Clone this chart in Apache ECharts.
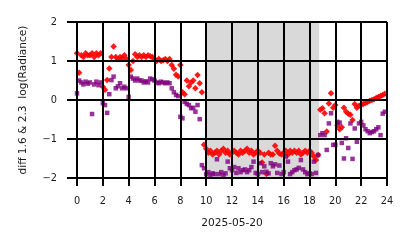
<!DOCTYPE html>
<html>
<head>
<meta charset="utf-8">
<script src="https://cdn.jsdelivr.net/npm/echarts@6/dist/echarts.min.js"></script>
<style>html,body{margin:0;padding:0;background:#fff;}#c{width:414px;height:248px;}</style>
</head>
<body>
<div id="c"></div>
<script>
// sample time step (hours) — 10-minute cadence
const stepHours = 1 / 6;
const xTicks = [0, 2, 4, 6, 8, 10, 12, 14, 16, 18, 20, 22, 24];
const yTicks = [-2, -1, 0, 1, 2];
const xTitle = '2025-05-20';
const yTitle = 'diff 1.6 & 2.3  log(Radiance)';
const nightSpan = [10, 18.75];

// red series (diamonds), one row per hour
const redValues = [
  1.2, 0.7, 1.15, 1.1, 1.2, 1.15,
  1.15, 1.2, 1.1, 1.2, 1.15, 1.2,
  0.34, 0.26, 0.51, 0.81, 1.1, 1.37,
  1.1, 1.05, 1.1, 1.07, 1.15, 1.05,
  0.9, 0.77, 1.0, 1.17, 1.1, 1.15,
  1.1, 1.15, 1.1, 1.15, 1.12, 1.1,
  1.05, 1.0, 1.05, 1.0, 1.02, 1.05,
  1.0, 1.05, 0.9, 0.8, 0.65, 0.6,
  0.9, 0.2, 0.15, 0.5, 0.35, 0.45,
  0.5, 0.3, 0.64, 0.43, 0.2, -1.15,
  -1.25, -1.35, -1.3, -1.4, -1.35, -1.3,
  -1.4, -1.3, -1.25, -1.35, -1.3, -1.4,
  -1.35, -1.3, -1.35, -1.4, -1.3, -1.35,
  -1.3, -1.25, -1.35, -1.3, -1.4, -1.35,
  -1.3, -1.35, -1.6, -1.4, -1.9, -1.35,
  -1.4, -1.4, -1.17, -1.3, -1.37, -1.4,
  -1.35, -1.3, -1.4, -1.3, -1.35, -1.3,
  -1.35, -1.3, -1.4, -1.35, -1.3, -1.35,
  -1.3, -1.35, -1.45, -1.54, -1.41, -0.25,
  -0.21, -0.34, -0.81, -0.09, 0.17, -0.2,
  -0.13, -0.65, -0.75, -0.7, -0.2, -0.3,
  -0.35, -0.38, -0.51, -0.1, -0.2, -0.15,
  -0.12, -0.1, -0.08, -0.05, -0.02, 0.0,
  0.02, 0.05, 0.08, 0.1, 0.13, 0.16
];

// purple series (squares), one row per hour
const purpleValues = [
  0.17, 0.5, 0.45, 0.4, 0.47, 0.42,
  0.45, -0.36, 0.4, 0.47, 0.38, 0.45,
  -0.08, -0.13, -0.33, 0.15, 0.51, 0.6,
  0.3, 0.35, 0.43, 0.3, 0.34, 0.3,
  0.08, 0.6, 0.55, 0.5, 0.55, 0.5,
  0.5, 0.45, 0.48, 0.45, 0.55, 0.53,
  0.5, 0.45, 0.43, 0.47, 0.45, 0.43,
  0.45, 0.43, 0.3, 0.2, 0.13, 0.1,
  -0.43, -0.47, -0.05, -0.1, -0.13, -0.21,
  -0.2, -0.3, -0.13, -0.49, -1.67, -1.75,
  -1.9, -1.85, -1.92, -1.88, -1.9, -1.52,
  -1.9, -1.85, -1.92, -1.88, -1.58, -1.75,
  -1.8, -1.72, -1.87, -1.75, -1.85, -1.8,
  -1.78, -1.85, -1.8, -1.72, -1.58, -1.87,
  -1.9, -1.62, -1.85, -1.7, -1.84, -1.88,
  -1.62, -1.7, -1.65, -1.87, -1.68, -1.9,
  -1.85, -1.45, -1.58, -1.9, -1.85, -1.8,
  -1.78, -1.74, -1.54, -1.78, -1.85, -1.9,
  -1.88, -1.9, -1.58, -1.87, -1.41, -0.9,
  -0.85, -0.9, -1.28, -0.6, -0.34, -1.15,
  -1.15, -0.56, -0.58, -1.1, -1.5, -0.98,
  -1.23, -0.6, -1.51, -0.73, -1.07, -0.6,
  -0.56, -0.65, -0.75, -0.8, -0.85, -0.82,
  -0.8, -0.75, -0.7, -0.9, -0.35, -0.3
];

const toPairs = arr => arr.map((v, i) => [i * stepHours, v]);
const font = 'DejaVu Sans';
const fmtNum = v => (v < 0 ? '\u2212' + Math.abs(v) : String(v));

const chart = echarts.init(document.getElementById('c'), null, {renderer: 'canvas'});
chart.setOption({
  animation: false,
  backgroundColor: '#fff',
  grid: {left: 77, right: 27, top: 22, bottom: 70, containLabel: false},
  xAxis: {
    type: 'value', min: xTicks[0], max: xTicks[xTicks.length - 1], interval: 2,
    z: 10,
    name: xTitle, nameLocation: 'middle', nameGap: 40,
    nameTextStyle: {fontFamily: font, fontSize: 10.6, color: '#1a1a1a'},
    axisLine: {show: true, onZero: false, lineStyle: {color: '#000', width: 2}},
    axisTick: {show: true, length: 8, lineStyle: {color: '#000', width: 2}},
    axisLabel: {margin: 18, fontFamily: font, fontSize: 9.8, color: '#1a1a1a', formatter: v => fmtNum(v)},
    splitLine: {show: true, lineStyle: {color: '#000', width: 2}}
  },
  yAxis: {
    type: 'value', min: yTicks[0], max: yTicks[yTicks.length - 1], interval: 1,
    z: 10,
    name: yTitle, nameLocation: 'middle', nameGap: 48, nameRotate: 90,
    nameTextStyle: {fontFamily: font, fontSize: 10.6, color: '#1a1a1a'},
    axisLine: {show: true, onZero: false, lineStyle: {color: '#000', width: 2}},
    axisTick: {show: true, length: 10, lineStyle: {color: '#000', width: 2}},
    axisLabel: {margin: 20, fontFamily: font, fontSize: 9.8, color: '#1a1a1a', formatter: v => fmtNum(v)},
    splitLine: {show: true, lineStyle: {color: '#000', width: 2}}
  },
  series: [
    {
      type: 'scatter', name: 'shade', data: [], z: 1, silent: true,
      markArea: {silent: true, itemStyle: {color: '#d9d9d9'},
        data: [[{xAxis: nightSpan[0]}, {xAxis: nightSpan[1]}]]}
    },
    {
      type: 'scatter', name: 'red', data: toPairs(redValues), z: 2,
      symbol: 'diamond', symbolSize: 6.5,
      itemStyle: {color: '#ff0000', opacity: 0.9}
    },
    {
      type: 'scatter', name: 'purple', data: toPairs(purpleValues), z: 3,
      symbol: 'rect', symbolSize: 4.5,
      itemStyle: {color: '#800080'}
    }
  ]
});
</script>
</body>
</html>
